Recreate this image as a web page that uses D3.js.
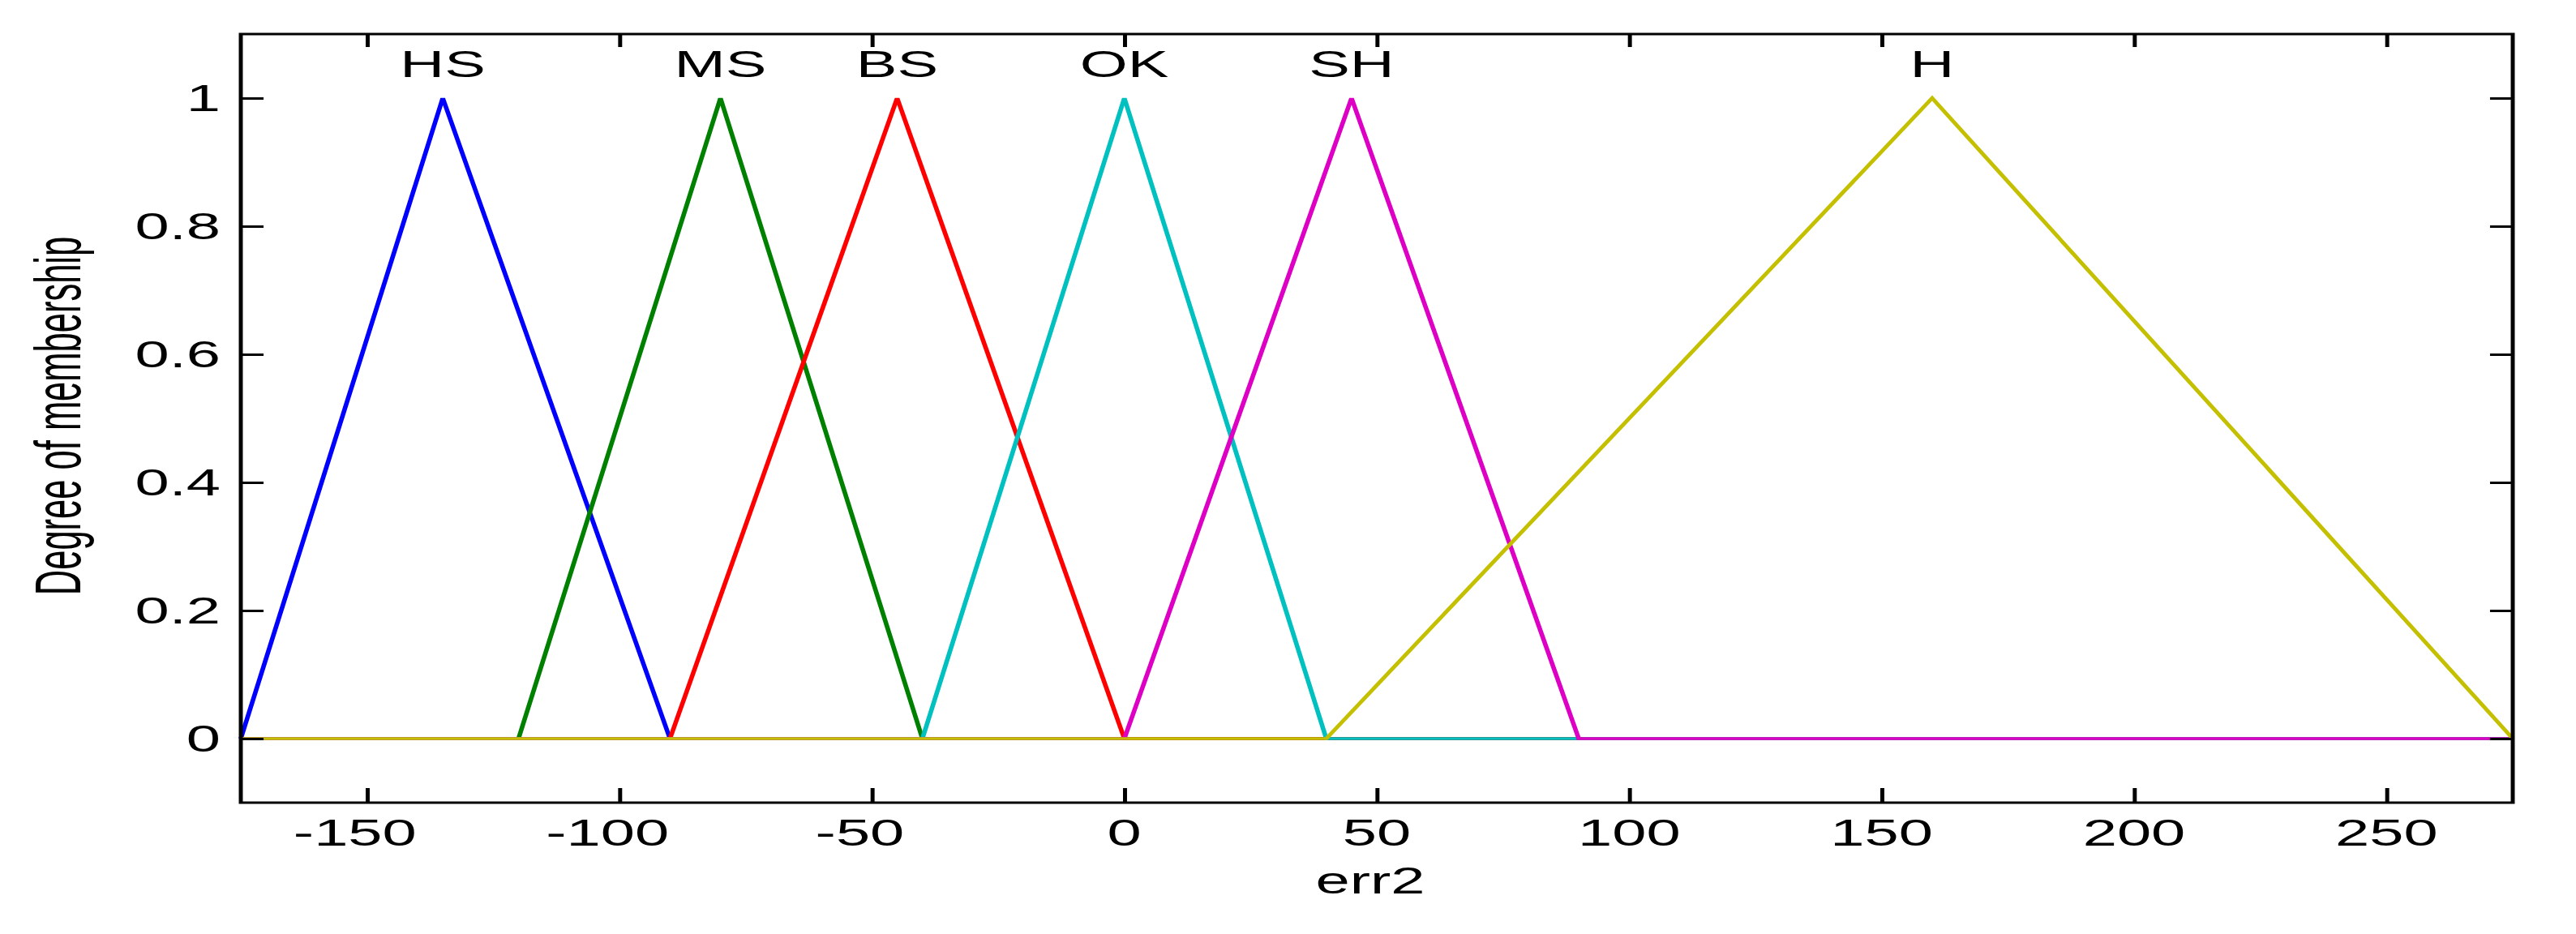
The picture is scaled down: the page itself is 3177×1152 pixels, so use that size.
<!DOCTYPE html>
<html>
<head>
<meta charset="utf-8">
<script src="https://cdn.jsdelivr.net/npm/d3@7"></script>
<style>
  html, body { margin: 0; padding: 0; background: #fff; }
  svg { display: block; }
  text { font-family: "Liberation Sans", Arial, sans-serif; fill: #000; }
</style>
</head>
<body>
<script>
// ---- data ----
const xTicks = [-150, -100, -50, 0, 50, 100, 150, 200, 250];
const yTicks = [0, 0.2, 0.4, 0.6, 0.8, 1];
const yTickLabels = ["0", "0.2", "0.4", "0.6", "0.8", "1"];
const mfNames = ["HS", "MS", "BS", "OK", "SH", "H"];
const mfPeaks = [-135, -80, -45, 0, 45, 160];
const mfColors = ["#0000FF", "#008000", "#FF0000", "#00C0C0", "#DD00C4", "#C4C000"];
// vertices of each membership function over the universe [-175, 275]
const xHS = [-175, -135, -90, 275];        const yHS = [0, 1, 0, 0];
const xMS = [-175, -120, -80, -40, 275];   const yMS = [0, 0, 1, 0, 0];
const xBS = [-175, -90, -45, 0, 275];      const yBS = [0, 0, 1, 0, 0];
const xOK = [-175, -40, 0, 40, 275];       const yOK = [0, 0, 1, 0, 0];
const xSH = [-175, 0, 45, 90, 275];        const ySH = [0, 0, 1, 0, 0];
const xH  = [-175, 40, 160, 275];          const yH  = [0, 0, 1, 0];
const xLabel = "err2";
const yLabel = "Degree of membership";

const seriesX = [xHS, xMS, xBS, xOK, xSH, xH];
const seriesY = [yHS, yMS, yBS, yOK, ySH, yH];

// ---- layout ----
const W = 3177, H = 1152;
const L = 297, R = 3099, T = 42, B = 990;
const SX = 1.65;       // horizontal stretch of the original figure
const FS = 46;

const svg = d3.select("body").append("svg").attr("width", W).attr("height", H);
svg.append("rect").attr("width", W).attr("height", H).attr("fill", "#fff");

// everything is drawn in an unstretched frame, then stretched horizontally
const g = svg.append("g").attr("transform", `scale(${SX},1)`);
const x = d3.scaleLinear().domain([-175, 275]).range([L / SX, R / SX]);
const y = d3.scaleLinear().domain([-0.1, 1.1]).range([B, T]);
const l = L / SX, r = R / SX;

// membership function lines
const line = d3.line().x(d => x(d[0])).y(d => y(d[1]));
seriesX.forEach((xs, i) => {
  const pts = xs.map((v, j) => [v, seriesY[i][j]]);
  g.append("path").datum(pts)
    .attr("d", line)
    .attr("fill", "none")
    .attr("stroke", mfColors[i])
    .attr("stroke-width", 3.5)
    .attr("stroke-linejoin", "miter");
});

// MF labels
mfNames.forEach((n, i) => {
  g.append("text")
    .attr("x", x(mfPeaks[i])).attr("y", y(1) - 26)
    .attr("text-anchor", "middle")
    .attr("font-size", FS)
    .text(n);
});

// axes (ticks inside on all four sides)
const tickStyle = sel => {
  sel.selectAll(".domain").remove();
  sel.selectAll("line").attr("stroke", "#000").attr("stroke-width", 3);
  sel.selectAll("text").remove();
};
g.append("g").attr("transform", `translate(0,${B})`)
  .call(d3.axisBottom(x).tickValues(xTicks).tickSizeInner(-18).tickSizeOuter(0)).call(tickStyle);
g.append("g").attr("transform", `translate(0,${T})`)
  .call(d3.axisTop(x).tickValues(xTicks).tickSizeInner(-16).tickSizeOuter(0)).call(tickStyle);
g.append("g").attr("transform", `translate(${l},0)`)
  .call(d3.axisLeft(y).tickValues(yTicks).tickSizeInner(-17).tickSizeOuter(0)).call(tickStyle);
g.append("g").attr("transform", `translate(${r},0)`)
  .call(d3.axisRight(y).tickValues(yTicks).tickSizeInner(-17).tickSizeOuter(0)).call(tickStyle);

// box
g.append("rect")
  .attr("x", l).attr("y", T).attr("width", r - l).attr("height", B - T)
  .attr("fill", "none").attr("stroke", "#000").attr("stroke-width", 3);

// tick labels
xTicks.forEach(v => {
  g.append("text")
    .attr("x", x(v) - (v < 0 ? 9 : 0)).attr("y", B + 53)
    .attr("text-anchor", "middle")
    .attr("font-size", FS)
    .text(v < 0 ? "-" + Math.abs(v) : String(v));
});
yTicks.forEach((v, i) => {
  g.append("text")
    .attr("x", (L - 25) / SX).attr("y", y(v) + 16)
    .attr("text-anchor", "end")
    .attr("font-size", FS)
    .text(yTickLabels[i]);
});

// axis labels
g.append("text")
  .attr("x", 1690 / SX).attr("y", B + 112)
  .attr("text-anchor", "middle")
  .attr("font-size", FS)
  .text(xLabel);
svg.append("text")
  .attr("transform", `translate(99,${(T + B) / 2 - 3}) scale(1.85,1) rotate(-90)`)
  .attr("text-anchor", "middle")
  .attr("font-size", 43.5)
  .text(yLabel);
</script>
</body>
</html>
